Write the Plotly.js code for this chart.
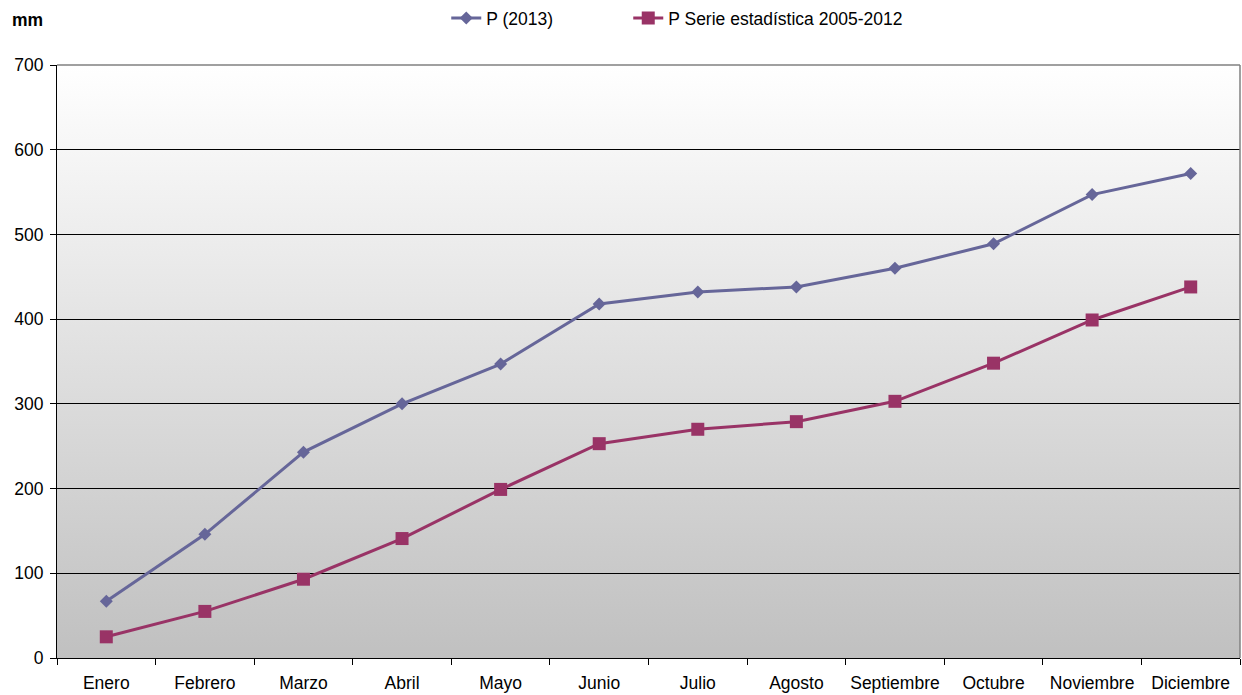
<!DOCTYPE html>
<html>
<head>
<meta charset="utf-8">
<script src="https://cdn.plot.ly/plotly-3.0.1.min.js"></script>
<style>html,body{margin:0;padding:0;background:#fff;}#chart{width:1242px;height:695px;}</style>
</head>
<body>
<div id="chart"></div>
<script>
const months = ["Enero","Febrero","Marzo","Abril","Mayo","Junio","Julio","Agosto","Septiembre","Octubre","Noviembre","Diciembre"];
const p2013 = [67, 146, 243, 300, 347, 418, 432, 438, 460, 489, 547, 572];
const pSerie = [25, 55, 93, 141, 199, 253, 270, 279, 303, 348, 399, 438];
const seriesNames = ["P (2013)", "P Serie estadística 2005-2012"];
const yTicks = [0, 100, 200, 300, 400, 500, 600, 700];

const FONT = "Liberation Sans, Arial, sans-serif";
const grad = '<svg xmlns="http://www.w3.org/2000/svg" width="10" height="100" preserveAspectRatio="none"><defs><linearGradient id="g" x1="0" y1="0" x2="0" y2="1"><stop offset="0" stop-color="#ffffff"/><stop offset="1" stop-color="#c0c0c0"/></linearGradient></defs><rect width="10" height="100" fill="url(#g)"/></svg>';
const gradURI = 'data:image/svg+xml;base64,' + btoa(grad);

const traces = [
  {x: months, y: p2013, name: seriesNames[0], type: 'scatter', mode: 'lines+markers', legend: 'legend',
   line: {color: '#666699', width: 3}, marker: {symbol: 'diamond', size: 10, color: '#666699'}},
  {x: months, y: pSerie, name: seriesNames[1], type: 'scatter', mode: 'lines+markers', legend: 'legend2',
   line: {color: '#993366', width: 3}, marker: {symbol: 'square', size: 13, color: '#993366'}}
];

const legFont = {family: FONT, size: 17.5, color: '#000'};
const layout = {
  width: 1242, height: 695,
  margin: {l: 57, r: 2, t: 65, b: 37},
  paper_bgcolor: '#ffffff',
  plot_bgcolor: 'rgba(0,0,0,0)',
  font: {family: FONT, size: 17.5, color: '#000'},
  showlegend: true,
  legend: {orientation: 'h', xref: 'container', yref: 'container', x: 0.3593, y: 1.0, xanchor: 'left', yanchor: 'top',
           font: legFont, bgcolor: 'rgba(0,0,0,0)'},
  legend2: {orientation: 'h', xref: 'container', yref: 'container', x: 0.3593 + 182/1242, y: 1.0, xanchor: 'left', yanchor: 'top',
           font: legFont, bgcolor: 'rgba(0,0,0,0)'},
  xaxis: {type: 'category', range: [-0.5, 11.5], tickson: 'boundaries', ticks: 'outside', ticklen: 6,
          tickcolor: '#000', showline: true, linecolor: '#000', linewidth: 1, showgrid: false,
          ticklabelstandoff: 9,
          tickfont: {family: FONT, size: 17.5}, zeroline: false, fixedrange: true},
  yaxis: {range: [0, 700], tickvals: yTicks, ticks: 'outside', ticklen: 6, tickcolor: '#000',
          showline: true, linecolor: '#000', linewidth: 1, showgrid: true, gridcolor: '#000', gridwidth: 1,
          ticklabelstandoff: 3,
          zeroline: false, tickfont: {family: FONT, size: 17.5}, fixedrange: true},
  images: [{source: gradURI, xref: 'paper', yref: 'paper', x: 0, y: 1, sizex: 1, sizey: 1,
            sizing: 'stretch', xanchor: 'left', yanchor: 'top', layer: 'below'}],
  shapes: [
    {type: 'line', xref: 'paper', yref: 'paper', x0: 0, x1: 1, y0: 1, y1: 1, line: {color: '#808080', width: 1.5}},
    {type: 'line', xref: 'paper', yref: 'paper', x0: 1, x1: 1, y0: 0, y1: 1, line: {color: '#808080', width: 1.5}}
  ],
  annotations: [{text: '<b>mm</b>', xref: 'paper', yref: 'paper', x: (10 - 57) / 1183, y: 1 + (65 - 20) / 593,
                 xanchor: 'left', yanchor: 'middle', showarrow: false, font: {family: FONT, size: 17.5}}]
};

Plotly.newPlot('chart', traces, layout, {displayModeBar: false, staticPlot: true});
</script>
</body>
</html>
